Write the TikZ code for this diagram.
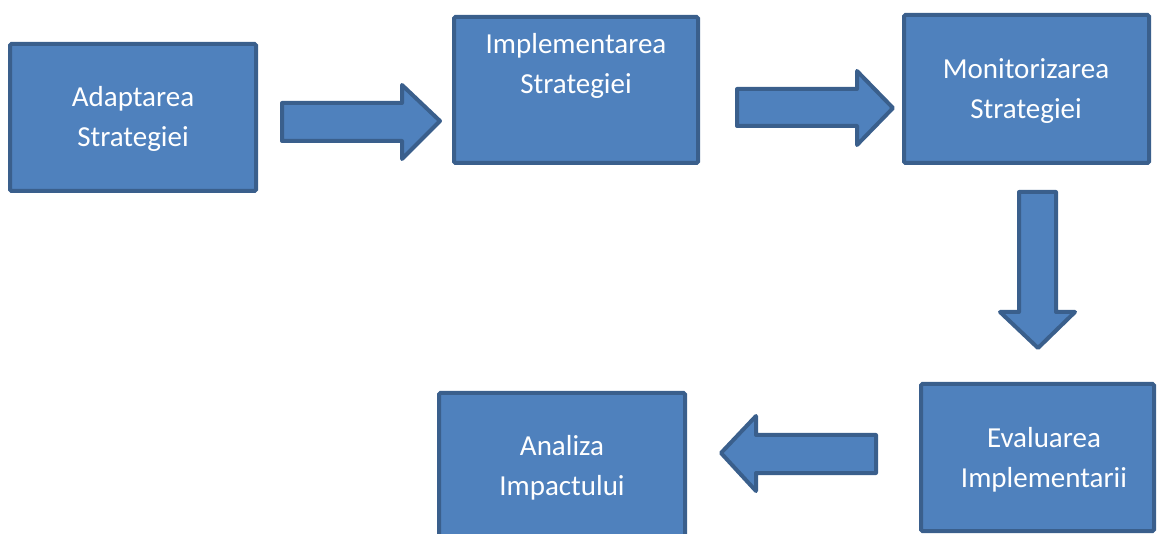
\documentclass[tikz,border=0pt]{standalone}
\usepackage{fontspec}
\setmainfont{Carlito}
\definecolor{boxfill}{HTML}{4F81BD}
\definecolor{boxline}{HTML}{3A5F8C}
\begin{document}
\begin{tikzpicture}[x=1pt,y=-1pt,
  blk/.style={draw=boxline,fill=boxfill,line width=4pt,rounded corners=1.5pt},
  barrow/.style={draw=boxline,fill=boxfill,line width=4pt,line join=round},
  lbl/.style={text=white,align=center,font=\fontsize{29}{40}\selectfont,inner sep=0pt}]
\useasboundingbox (0,0) rectangle (1157,534);
\clip (0,0) rectangle (1157,534);
% boxes
\draw[blk] (10,44) rectangle (256,191);
\draw[blk] (454,17) rectangle (698,163);
\draw[blk] (904,15) rectangle (1149,163);
\draw[blk] (921,384) rectangle (1154,531);
\draw[blk] (439,393) rectangle (685,545);
% box nodes (for names)
\node[inner sep=0pt,minimum width=246pt,minimum height=147pt] (adapt) at (133,117.5) {};
\node[inner sep=0pt,minimum width=244pt,minimum height=146pt] (impl) at (576,90) {};
\node[inner sep=0pt,minimum width=245pt,minimum height=148pt] (mon) at (1026.5,89) {};
\node[inner sep=0pt,minimum width=233pt,minimum height=147pt] (eval) at (1037.5,457.5) {};
\node[inner sep=0pt,minimum width=246pt,minimum height=152pt] (anal) at (562,469) {};
% labels
\node[lbl] (t1) at (133,119) {Adaptarea\\Strategiei};
\node[lbl] (t2) at (576,66) {Implementarea\\Strategiei};
\node[lbl] (t3) at (1026,91) {Monitorizarea\\Strategiei};
\node[lbl] (t4) at (1044,460) {Evaluarea\\Implementarii};
\node[lbl] (t5) at (562,468) {Analiza\\Impactului};
% block arrows
\draw[barrow] (282,103) -- (402,103) -- (402,85) -- (440,121) -- (402,159) -- (402,141) -- (282,141) -- cycle;
\draw[barrow] (737,89) -- (857,89) -- (857,71) -- (893,108) -- (857,145) -- (857,126) -- (737,126) -- cycle;
\draw[barrow] (1019,192) -- (1056,192) -- (1056,312) -- (1075,312) -- (1038,348) -- (1000,312) -- (1019,312) -- cycle;
\draw[barrow] (876,435) -- (756,435) -- (756,416) -- (721,453) -- (756,491) -- (756,473) -- (876,473) -- cycle;
\end{tikzpicture}
\end{document}
